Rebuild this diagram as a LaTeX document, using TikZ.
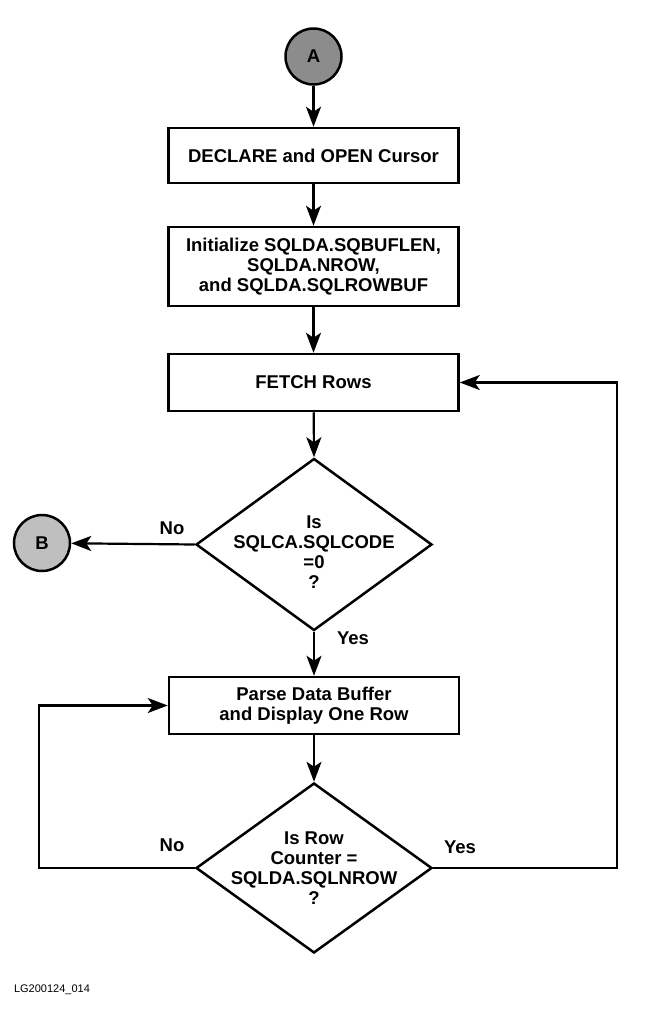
\documentclass[tikz,border=0pt]{standalone}
\usepackage{fontspec}
\setmainfont{Liberation Sans}
\usetikzlibrary{arrows.meta,shapes.geometric}
\begin{document}
\begin{tikzpicture}[x=1pt,y=-1pt,
  every node/.style={font=\bfseries\fontsize{18.5}{20}\selectfont},
  box/.style={draw,line width=2.5pt,rectangle,minimum width=290pt,align=center,inner sep=0pt},
  dia/.style={draw,line width=2.5pt,diamond,inner sep=0pt,minimum width=236pt,minimum height=172pt},
  conn/.style={circle,draw,line width=2.5pt,minimum size=56pt,inner sep=0pt},
  flow/.style={line width=2.2pt,-{Stealth[length=20pt,width=15pt,inset=5pt]}},
  txt/.style={align=center,inner sep=0pt},
  lbl/.style={inner sep=0pt}]
\useasboundingbox (0,0) rectangle (654,1009);

\node[conn,fill=black!45] (A) at (313.5,56.5) {A};
\node[box,minimum height=55pt] (b1) at (313.5,155.5) {DECLARE and OPEN Cursor};
\node[box,minimum height=79pt] (b2) at (313.5,266.5) {Initialize SQLDA.SQBUFLEN,\\SQLDA.NROW,\\and SQLDA.SQLROWBUF};
\node[box,minimum height=57pt] (b3) at (313.5,382.5) {FETCH Rows};
\node[dia] (d1) at (314,544.5) {};
\node[txt] (d1t) at (314,552) {Is\\SQLCA.SQLCODE\\=0\\?};
\node[conn,fill=black!25] (B) at (42,543) {B};
\node[box,minimum height=57pt] (b4) at (314,705.5) {Parse Data Buffer\\and Display One Row};
\node[dia,minimum height=170pt] (d2) at (314,868) {};
\node[txt] (d2t) at (314,868) {Is Row\\Counter =\\SQLDA.SQLNROW\\?};

\coordinate (rt) at (617,868);
\coordinate (lf) at (39,868);

\draw[flow] (A) -- (b1);
\draw[flow] (b1) -- (b2);
\draw[flow] (b2) -- (b3);
\draw[flow] (b3) -- (d1.north);
\draw[flow] (d1.west) -- (B);
\draw[flow] (d1.south) -- (b4);
\draw[flow] (b4) -- (d2.north);
\draw[flow] (d2.east) -- (rt) |- (b3.east);
\draw[flow] (d2.west) -- (lf) |- (b4.west);

\node[lbl] (no1) at (172,528) {No};
\node[lbl] (yes1) at (353,638) {Yes};
\node[lbl] (no2) at (172,845) {No};
\node[lbl] (yes2) at (460,847) {Yes};
\node[lbl,font=\fontsize{11}{12}\selectfont] (fig) at (52,990) {LG200124\_014};
\end{tikzpicture}
\end{document}
